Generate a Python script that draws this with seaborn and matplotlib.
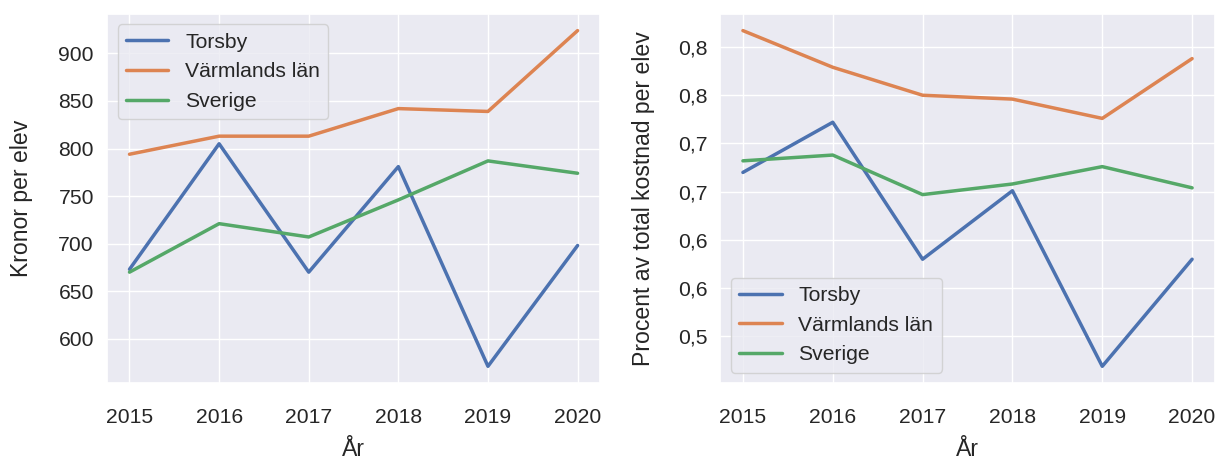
import matplotlib
matplotlib.use("Agg")
import matplotlib.pyplot as plt
import seaborn as sns

years = [2015, 2016, 2017, 2018, 2019, 2020]

# kronor per elev
kr_torsby = [673, 805, 670, 781, 571, 698]
kr_varmland = [794, 813, 813, 842, 839, 924]
kr_sverige = [670, 721, 707, 746, 787, 774]

# andel av total kostnad per elev
pct_torsby = [0.720, 0.772, 0.630, 0.701, 0.519, 0.630]
pct_varmland = [0.867, 0.829, 0.800, 0.796, 0.776, 0.838]
pct_sverige = [0.732, 0.738, 0.697, 0.708, 0.726, 0.704]

series_names = ["Torsby", "Värmlands län", "Sverige"]
pct_ticks = [0.85, 0.80, 0.75, 0.70, 0.65, 0.60, 0.55]
pct_ticklabels = ["0,8", "0,8", "0,7", "0,7", "0,6", "0,6", "0,5"]

sns.set_theme(style="darkgrid", font_scale=1.38)
plt.rcParams["font.family"] = ["Liberation Sans", "DejaVu Sans"]

fig = plt.figure(figsize=(12.17, 4.61), dpi=100)
ax1 = fig.add_axes([0.088, 0.169, 0.405, 0.801])
ax2 = fig.add_axes([0.592, 0.169, 0.406, 0.801])

for name, vals in zip(series_names, [kr_torsby, kr_varmland, kr_sverige]):
    sns.lineplot(x=years, y=vals, label=name, ax=ax1, linewidth=2.5)
ax1.set_xlabel("År", labelpad=8)
ax1.set_ylabel("Kronor per elev", labelpad=18)
ax1.legend(loc="upper left")

for name, vals in zip(series_names, [pct_torsby, pct_varmland, pct_sverige]):
    sns.lineplot(x=years, y=vals, label=name, ax=ax2, linewidth=2.5)
ax2.set_yticks(pct_ticks)
ax2.set_yticklabels(pct_ticklabels)
ax2.set_xlabel("År", labelpad=8)
ax2.set_ylabel("Procent av total kostnad per elev", labelpad=16)
ax2.legend(loc="lower left")

for ax in (ax1, ax2):
    ax.set_xticks(years)
    ax.tick_params(axis="x", pad=12)

fig.savefig("out.png", dpi=100)
